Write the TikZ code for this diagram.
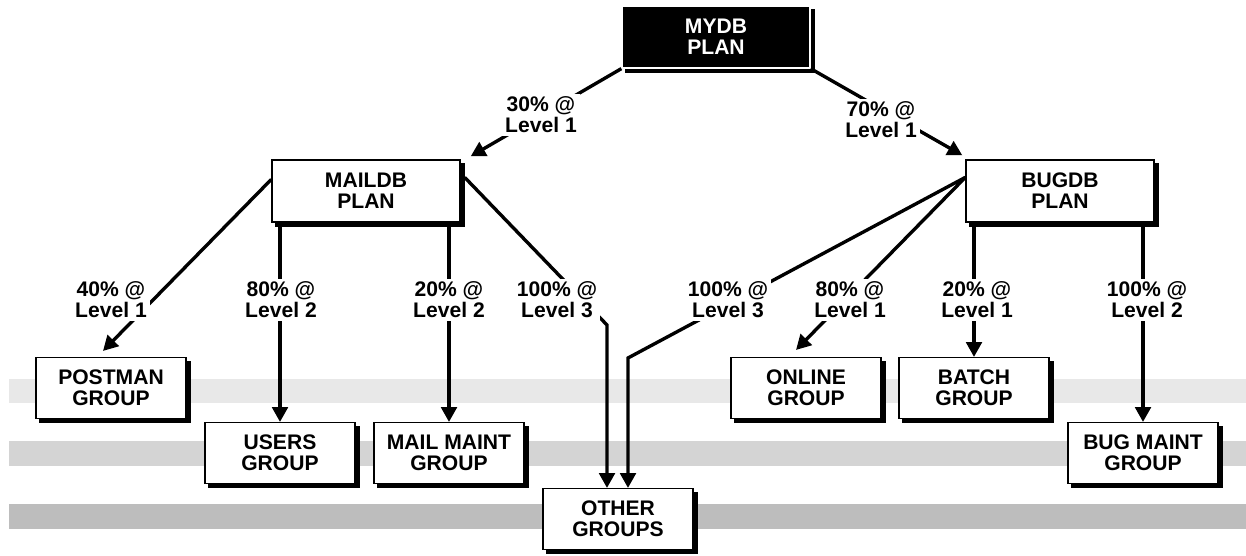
\documentclass[tikz,border=0pt]{standalone}
\usepackage{fontspec}
\setmainfont{Liberation Sans}
\usetikzlibrary{arrows.meta,calc,backgrounds}

\begin{document}
\begin{tikzpicture}[x=0.025cm,y=-0.025cm]
        \tikzstyle{every node} = [font=\bfseries\fontsize{15pt}{15pt}\selectfont, align=center]
        \tikzstyle{box} = [rectangle, draw, line width=0.9pt, fill=white, minimum width=3.75cm, minimum height=1.52cm]
        \tikzstyle{plan} = [box, minimum width=4.7cm, minimum height=1.55cm]
        \tikzstyle{pct} = [fill=white, inner sep=2pt]
        \tikzstyle{arr} = [line width=2.4pt, -{Triangle[length=10.5pt,width=11pt]}]

        \useasboundingbox (0,0) rectangle (1246,556);

        \node[plan, fill=black, draw=white, text=white] (mydb) at (716,37) {MYDB\\PLAN};
        \node[plan] (maildb) at (366,191) {MAILDB\\PLAN};
        \node[plan] (bugdb) at (1060,191) {BUGDB\\PLAN};
        \node[box] (postman) at (111,388) {POSTMAN\\GROUP};
        \node[box] (users) at (280,453) {USERS\\GROUP};
        \node[box] (mailmaint) at (449,453) {MAIL MAINT\\GROUP};
        \node[box] (other) at (618,519) {OTHER\\GROUPS};
        \node[box] (online) at (806,388) {ONLINE\\GROUP};
        \node[box] (batch) at (974,388) {BATCH\\GROUP};
        \node[box] (bugmaint) at (1143,453) {BUG MAINT\\GROUP};

        \begin{scope}[on background layer]
            % grey bands behind the groups
            \fill[gray!18] (9,379) rectangle (1246,403);
            \fill[gray!34] (9,441) rectangle (1246,466);
            \fill[gray!52] (9,504) rectangle (1246,529);
            % shadows
            \foreach \n in {mydb, maildb, bugdb, postman, users, mailmaint, other, online, batch, bugmaint}
                \fill ($(\n.south west)+(4,4)$) rectangle ($(\n.north east)+(4,4)$);
        \end{scope}

        \coordinate (mw) at ($(maildb.north west)+(0,20)$);
        \coordinate (me) at ($(maildb.north east)+(4,18)$);
        \coordinate (bw) at ($(bugdb.north west)+(0,18)$);
        \coordinate (ml) at (607,325);
        \coordinate (bl) at (628,358);

        \draw[arr] (mydb.south west) -- ($(maildb.north east)+(10,-3)$);
        \draw[arr] (mydb.south east) -- ($(bugdb.north west)+(-3,-4)$);
        \draw[arr] (mw) -- ($(postman.north)+(-8,-6)$);
        \draw[arr] (bw) -- ($(online.north)+(-10,-7)$);
        \foreach \from/\to in {maildb/users, maildb/mailmaint, bugdb/batch, bugdb/bugmaint}
            \draw[arr] (\from.south -| \to.north) -- (\to.north);
        \draw[arr] (me) -- (ml) -- (ml |- other.north);
        \draw[arr] (bw) -- (bl) -- (bl |- other.north);

        % shares
        \node[pct] (p30) at (541,115) {30\% @\\Level 1};
        \node[pct] (p70) at (881,120) {70\% @\\Level 1};
        \node[pct] (p40) at (111,300) {40\% @\\Level 1};
        \node[pct] (p80m) at (281,300) {80\% @\\Level 2};
        \node[pct] (p20m) at (449,300) {20\% @\\Level 2};
        \node[pct] (p100m) at (557,300) {100\% @\\Level 3};
        \node[pct] (p100b) at (728,300) {100\% @\\Level 3};
        \node[pct] (p80b) at (850,300) {80\% @\\Level 1};
        \node[pct] (p20b) at (977,300) {20\% @\\Level 1};
        \node[pct] (p100l) at (1147,300) {100\% @\\Level 2};
\end{tikzpicture}
\end{document}
